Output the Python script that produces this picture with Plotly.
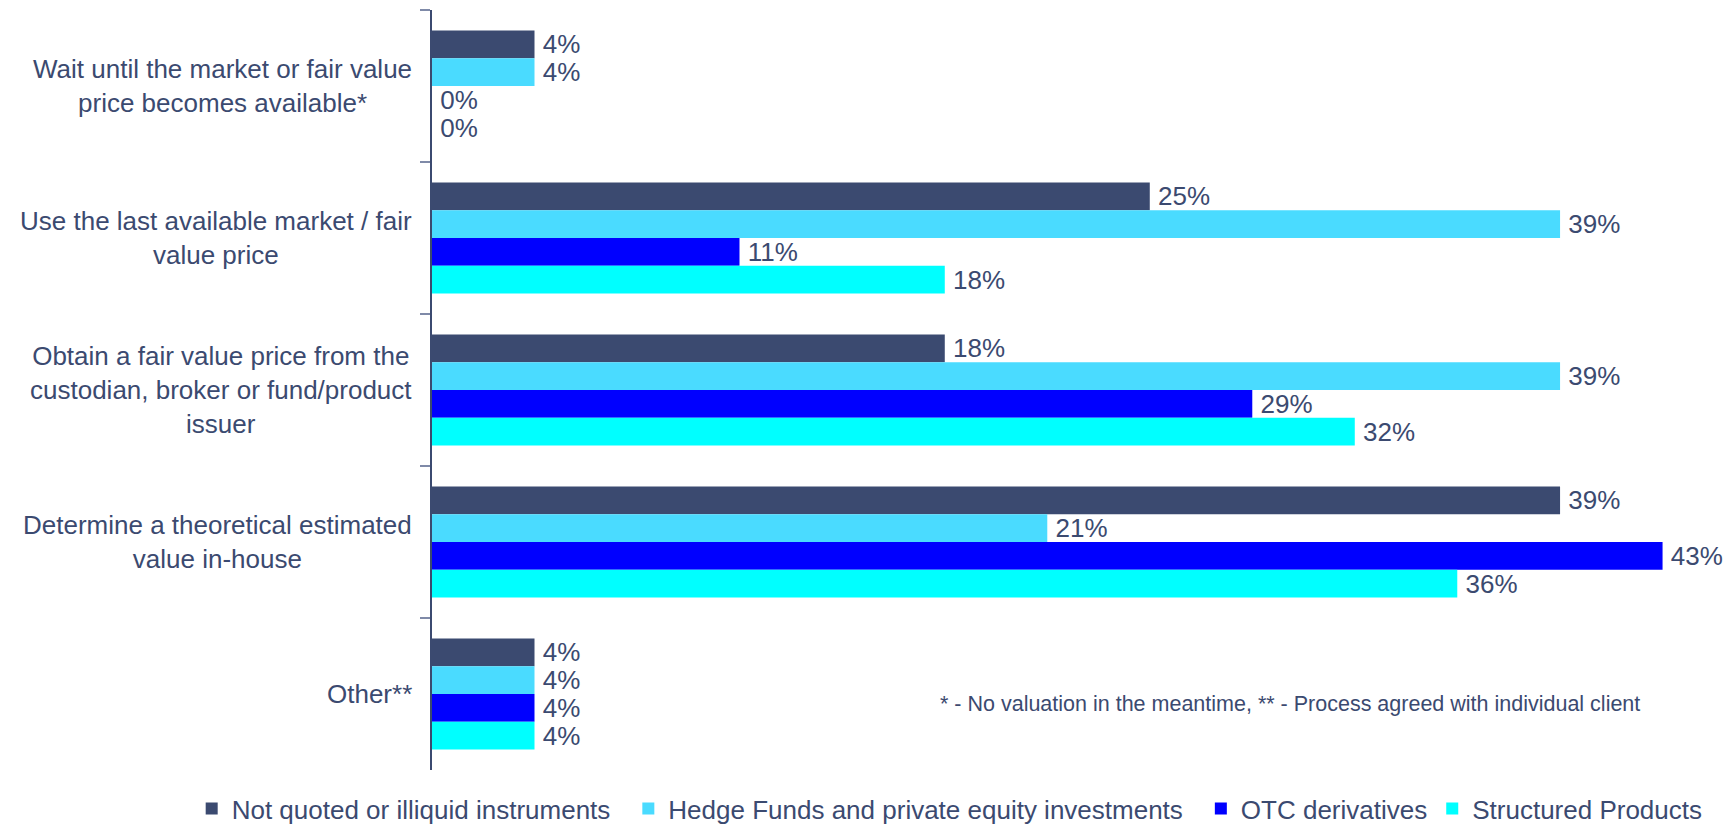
import plotly.graph_objects as go

categories = [
    "Wait until the market or fair value<br>price becomes available*",
    "Use the last available market / fair<br>value price",
    "Obtain a fair value price from the<br>custodian, broker or fund/product<br>issuer",
    "Determine a theoretical estimated<br>value in-house",
    "Other**",
]
series_names = [
    "Not quoted or illiquid instruments",
    "Hedge Funds and private equity investments",
    "OTC derivatives",
    "Structured Products",
]
not_quoted = [3.57, 25.0, 17.86, 39.29, 3.57]
hedge_funds = [3.57, 39.29, 39.29, 21.43, 3.57]
otc_derivatives = [0.0, 10.71, 28.57, 42.86, 3.57]
structured = [0.0, 17.86, 32.14, 35.71, 3.57]
footnote = "* - No valuation in the meantime, ** - Process agreed with individual client"

colors = ["#3B4A70", "#4ADBFF", "#0000FF", "#00FFFF"]
text_color = "#3B4A70"
font_family = "Liberation Sans, Arial, sans-serif"

fig = go.Figure()
all_vals = [not_quoted, hedge_funds, otc_derivatives, structured]
for i, (name, vals, col) in enumerate(zip(series_names, all_vals, colors)):
    legend_name = name + ("\u2002" if i < 2 else "")
    fig.add_trace(go.Bar(
        y=categories, x=vals, name=legend_name, orientation="h",
        marker=dict(color=col, line=dict(width=0)),
        texttemplate="\u2009%{x:.0f}%", textposition="outside",
        textfont=dict(size=26, color=text_color, family=font_family),
        constraintext="none", cliponaxis=False,
    ))

for cat in categories:
    fig.add_annotation(
        x=0, y=cat, xref="x", yref="y", text=cat, showarrow=False,
        xanchor="right", align="center", xshift=-18,
        font=dict(size=26, color=text_color, family=font_family),
    )

fig.add_annotation(
    x=0.3916, y=0.0868, xref="paper", yref="paper", text=footnote,
    showarrow=False, xanchor="left", yanchor="middle",
    font=dict(size=21.5, color=text_color, family=font_family),
)

fig.update_layout(
    width=1735, height=826,
    margin=dict(l=432, r=11, t=10, b=56, autoexpand=False),
    paper_bgcolor="white", plot_bgcolor="white",
    barmode="group", bargap=0.27, bargroupgap=0,
    font=dict(family=font_family, color=text_color, size=26),
    showlegend=True,
    legend=dict(
        orientation="h", x=-0.186, xanchor="left", y=-0.0816, yanchor="bottom",
        font=dict(size=26, color=text_color, family=font_family),
        traceorder="normal",
    ),
    xaxis=dict(range=[0, 45], showticklabels=False, showgrid=False,
               zeroline=False, showline=False),
    yaxis=dict(autorange="reversed", showticklabels=False, showgrid=False,
               showline=True, linecolor=text_color, linewidth=1.5,
               ticks="outside", ticklen=10, tickcolor="#7F8AA8", tickwidth=1.5,
               tickson="boundaries", zeroline=False),
)

fig.write_html("out.html", config={"displayModeBar": False},
               post_script="document.body.style.margin='0';")
